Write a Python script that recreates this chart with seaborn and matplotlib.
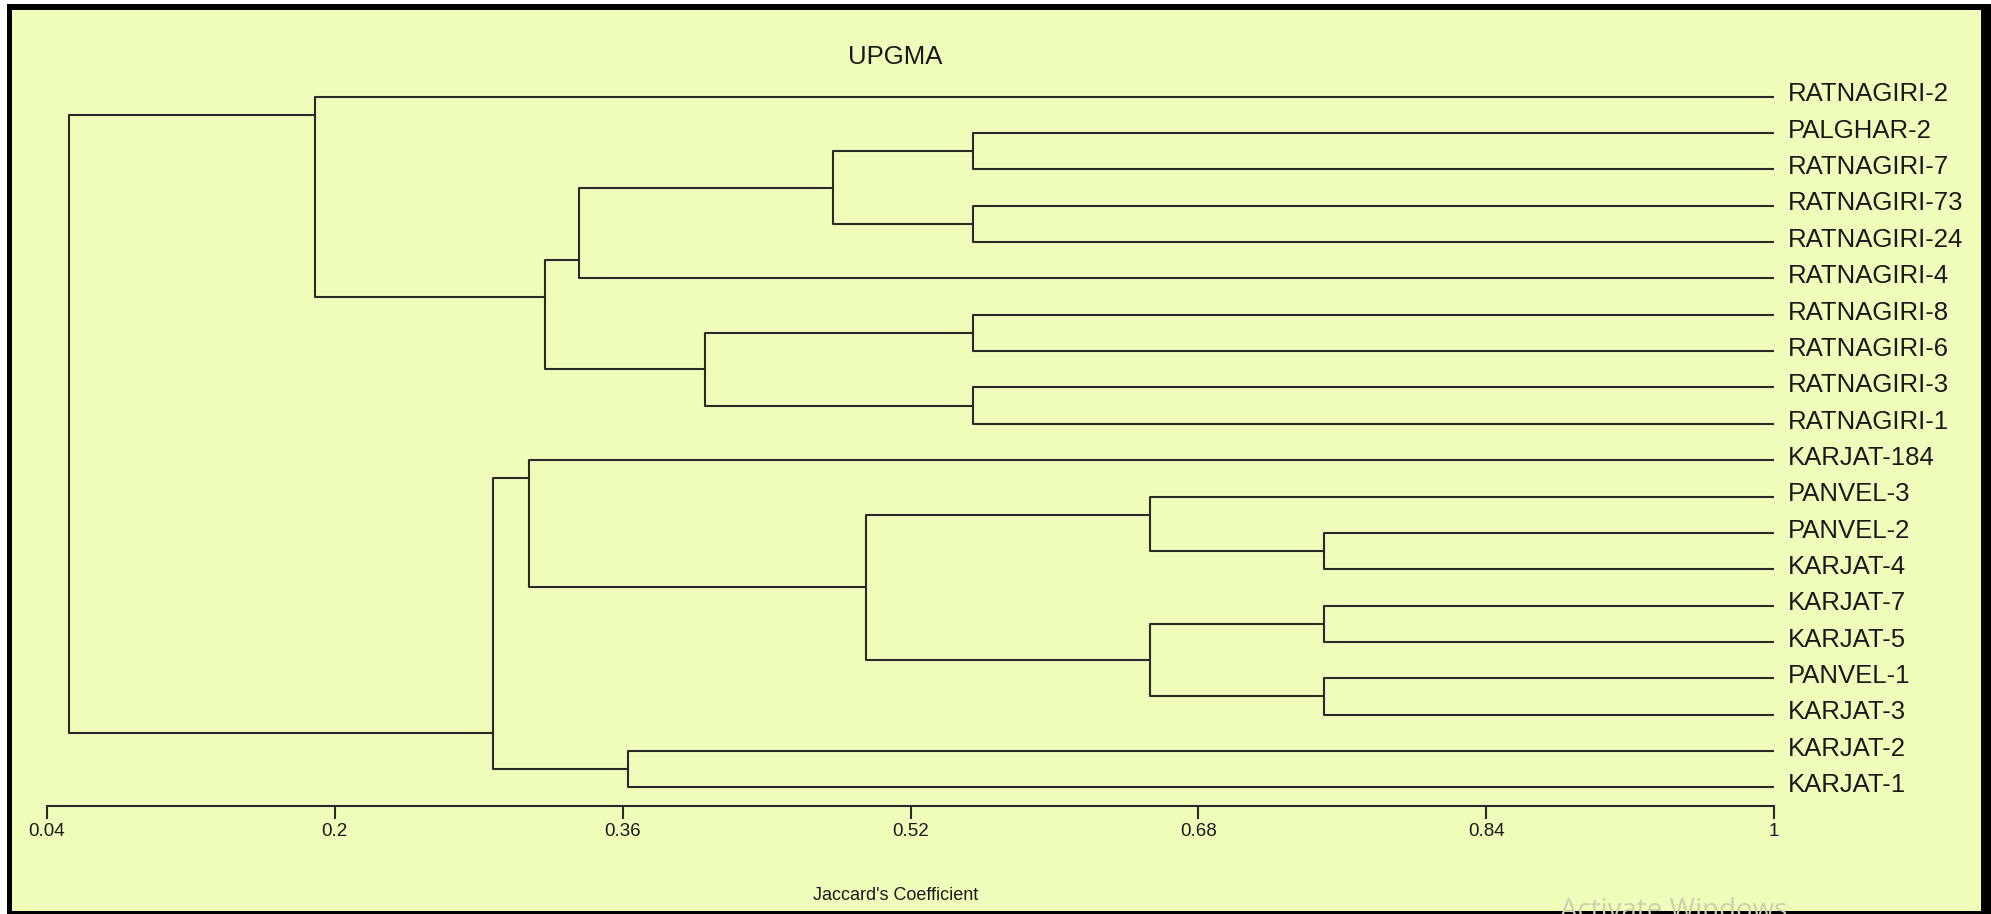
import numpy as np
import pandas as pd
import matplotlib
matplotlib.use('Agg')
import matplotlib.pyplot as plt
from matplotlib.patches import Rectangle
import seaborn as sns

# leaf order, top to bottom
leaves = ['RATNAGIRI-2', 'PALGHAR-2', 'RATNAGIRI-7', 'RATNAGIRI-73', 'RATNAGIRI-24',
          'RATNAGIRI-4', 'RATNAGIRI-8', 'RATNAGIRI-6', 'RATNAGIRI-3', 'RATNAGIRI-1',
          'KARJAT-184', 'PANVEL-3', 'PANVEL-2', 'KARJAT-4', 'KARJAT-7',
          'KARJAT-5', 'PANVEL-1', 'KARJAT-3', 'KARJAT-2', 'KARJAT-1']

# UPGMA joins, in order; cluster k is called 'c<k>' (a = upper child, b = lower child)
join_a = ['PALGHAR-2', 'RATNAGIRI-73', 'c0', 'c2', 'RATNAGIRI-8', 'RATNAGIRI-3', 'c4', 'c3',
          'RATNAGIRI-2', 'PANVEL-2', 'PANVEL-3', 'KARJAT-7', 'PANVEL-1', 'c11', 'c10',
          'KARJAT-184', 'KARJAT-2', 'c15', 'c8']
join_b = ['RATNAGIRI-7', 'RATNAGIRI-24', 'c1', 'RATNAGIRI-4', 'RATNAGIRI-6', 'RATNAGIRI-1', 'c5', 'c6',
          'c7', 'KARJAT-4', 'c9', 'KARJAT-5', 'KARJAT-3', 'c12', 'c13',
          'c14', 'KARJAT-1', 'c16', 'c17']
join_sim = [0.555, 0.555, 0.477, 0.336, 0.555, 0.555, 0.406, 0.317,
            0.189, 0.750, 0.653, 0.750, 0.750, 0.653, 0.495,
            0.308, 0.363, 0.288, 0.052]

ticks = [0.04, 0.2, 0.36, 0.52, 0.68, 0.84, 1.0]
tick_labels = ['0.04', '0.2', '0.36', '0.52', '0.68', '0.84', '1']

# build the elbow segments of the tree
# (a node sits halfway between the last leaf of its upper child and the first leaf of the lower one)
pos = {name: (1.0, i) for i, name in enumerate(leaves)}
span = {name: (i, i) for i, name in enumerate(leaves)}
rows = []
for k, (a, b, s) in enumerate(zip(join_a, join_b, join_sim)):
    xa, ya = pos[a]
    xb, yb = pos[b]
    rows += [(k, xa, ya), (k, s, ya), (k, s, yb), (k, xb, yb)]
    span[f'c{k}'] = (span[a][0], span[b][1])
    pos[f'c{k}'] = (s, (span[a][1] + span[b][0]) / 2)
seg = pd.DataFrame(rows, columns=['link', 'x', 'y'])

sns.set_style('white')
plt.rcParams['font.family'] = ['Liberation Sans', 'DejaVu Sans']

W, H = 1991, 914
bg = '#eefdba'
ink = '#2a2a2a'
fig = plt.figure(figsize=(W / 100, H / 100), dpi=100)
fig.patch.set_facecolor('white')
fig.add_artist(Rectangle((7 / W, 0), (W - 7) / W, (H - 4) / H, transform=fig.transFigure,
                         facecolor='black', edgecolor='none', zorder=-10))
fig.add_artist(Rectangle((12 / W, 3 / H), (1981 - 12) / W, (911 - 10) / H, transform=fig.transFigure,
                         facecolor=bg, edgecolor='none', zorder=-9))

ax = fig.add_axes([47 / W, (H - 806) / H, (1774 - 47) / W, (806 - 40) / H])
ax.patch.set_alpha(0)

sns.lineplot(data=seg, x='x', y='y', units='link', estimator=None, sort=False,
             color=ink, lw=1.5, legend=False, ax=ax)

ax.set_xlim(0.04, 1.0)
ax.set_ylim(19.514, -1.56)
ax.set_xticks(ticks)
ax.set_xticklabels(tick_labels)
ax.set_yticks([])
ax.set_xlabel('')
ax.set_ylabel('')
for side in ['left', 'top', 'right']:
    ax.spines[side].set_visible(False)
ax.spines['bottom'].set_color(ink)
ax.spines['bottom'].set_linewidth(1.5)
ax.tick_params(axis='x', bottom=True, direction='out', length=9, width=1.5, pad=3.5,
               labelsize=13.5, colors=ink, labelcolor='#1a1a1a')

for i, name in enumerate(leaves):
    ax.text(1.0 + 0.0078, i + 0.13, name, ha='left', va='baseline', fontsize=18.5,
            color='#1a1a1a', clip_on=False)

fig.text(895 / W, 1 - 57 / H, 'UPGMA', ha='center', va='center', fontsize=18.5, color='#1a1a1a')
fig.text(896 / W, 1 - 896 / H, "Jaccard's Coefficient", ha='center', va='center',
         fontsize=13, color='#1a1a1a')
fig.text(1560 / W, 1 - 918 / H, 'Activate Windows', ha='left', va='baseline', fontsize=20,
         color='#c9d1ae', family=['Open Sans', 'DejaVu Sans'])

fig.savefig('out.png', dpi=100, facecolor=fig.get_facecolor())
